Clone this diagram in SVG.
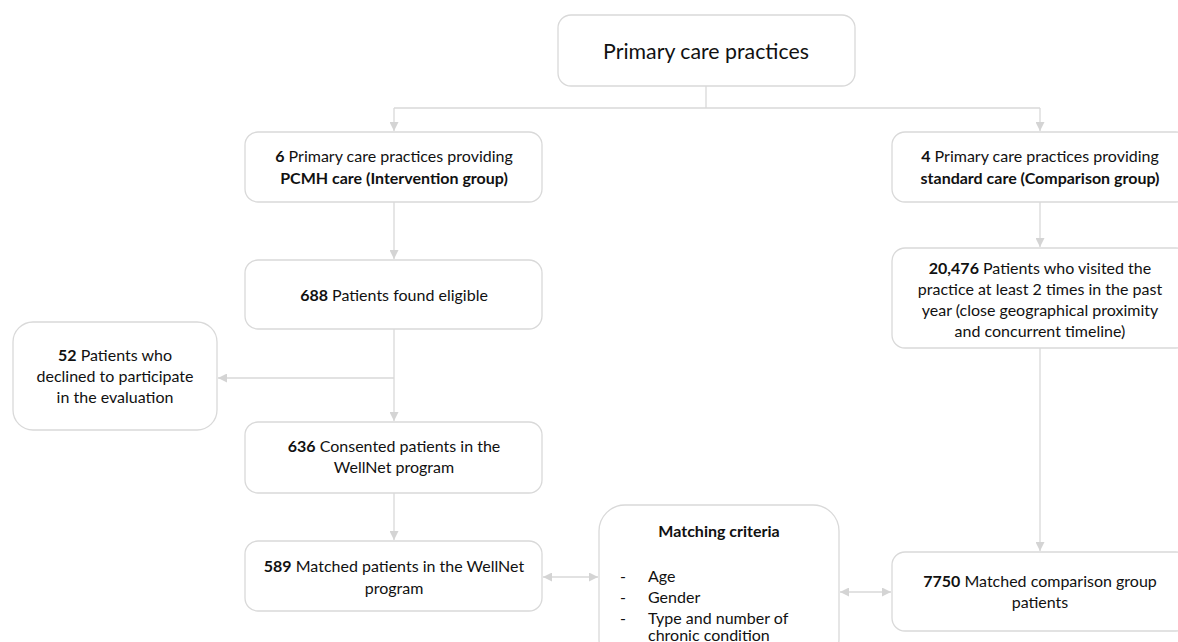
<svg xmlns="http://www.w3.org/2000/svg" width="1178" height="642" viewBox="0 0 1178 642">
<defs>
<marker id="ah" viewBox="0 0 10 10" refX="10" refY="5" markerWidth="9" markerHeight="9" markerUnits="userSpaceOnUse" orient="auto-start-reverse">
<path d="M0,0 L10,5 L0,10 z" fill="#d4d4d4"/>
</marker>
<style>
.box{fill:#fff;stroke:#d9d9d9;stroke-width:1.3}
.t{font-family:Lato,"Open Sans","Liberation Sans",sans-serif;font-size:16px;fill:#111;text-anchor:middle}
.l{text-anchor:start}
.b{font-weight:bold}
.c{fill:none;stroke:#d9d9d9;stroke-width:1.3}
</style>
</defs>
<rect width="1178" height="642" fill="#fff"/>
<g id="connectors">
<path class="c" d="M706,86 V108 M394,108 H1040"/>
<path class="c" d="M394,108 V131" marker-end="url(#ah)"/>
<path class="c" d="M1040,108 V131" marker-end="url(#ah)"/>
<path class="c" d="M394,202 V259" marker-end="url(#ah)"/>
<path class="c" d="M1040,202 V247" marker-end="url(#ah)"/>
<path class="c" d="M394,329 V421" marker-end="url(#ah)"/>
<path class="c" d="M394,378 H218" marker-end="url(#ah)"/>
<path class="c" d="M394,493 V540" marker-end="url(#ah)"/>
<path class="c" d="M1040,348 V551" marker-end="url(#ah)"/>
<path class="c" d="M543,577 H598" marker-start="url(#ah)" marker-end="url(#ah)"/>
<path class="c" d="M840,592 H891" marker-start="url(#ah)" marker-end="url(#ah)"/>
</g>
<g id="n-top">
<rect class="box" x="558" y="15" width="297" height="71" rx="13"/>
<text class="t" x="706" y="59" style="font-size:21.3px">Primary care practices</text>
</g>
<g id="n-pcmh">
<rect class="box" x="245" y="132" width="297" height="70" rx="13"/>
<text class="t" x="394" y="162"><tspan class="b">6</tspan> Primary care practices providing</text>
<text class="t b" x="394" y="184">PCMH care (Intervention group)</text>
</g>
<g id="n-standard">
<rect class="box" x="892" y="132" width="297" height="70" rx="13"/>
<text class="t" x="1040" y="162"><tspan class="b">4</tspan> Primary care practices providing</text>
<text class="t b" x="1040" y="184">standard care (Comparison group)</text>
</g>
<g id="n-eligible">
<rect class="box" x="245" y="260" width="297" height="69" rx="13"/>
<text class="t" x="394" y="301"><tspan class="b">688</tspan> Patients found eligible</text>
</g>
<g id="n-visited">
<rect class="box" x="892" y="248" width="297" height="100" rx="13"/>
<text class="t" x="1040" y="274"><tspan class="b">20,476</tspan> Patients who visited the</text>
<text class="t" x="1040" y="295">practice at least 2 times in the past</text>
<text class="t" x="1040" y="316">year (close geographical proximity</text>
<text class="t" x="1040" y="337">and concurrent timeline)</text>
</g>
<g id="n-declined">
<rect class="box" x="13" y="322" width="204" height="108" rx="20"/>
<text class="t" x="115" y="361"><tspan class="b">52</tspan> Patients who</text>
<text class="t" x="115" y="382">declined to participate</text>
<text class="t" x="115" y="403">in the evaluation</text>
</g>
<g id="n-consented">
<rect class="box" x="245" y="422" width="297" height="71" rx="13"/>
<text class="t" x="394" y="452"><tspan class="b">636</tspan> Consented patients in the</text>
<text class="t" x="394" y="473">WellNet program</text>
</g>
<g id="n-matched">
<rect class="box" x="245" y="541" width="297" height="70" rx="13"/>
<text class="t" x="394" y="572"><tspan class="b">589</tspan> Matched patients in the WellNet</text>
<text class="t" x="394" y="594">program</text>
</g>
<g id="n-criteria">
<rect class="box" x="599" y="505" width="240" height="160" rx="26"/>
<text class="t b" x="719" y="537">Matching criteria</text>
<text class="t l" x="620" y="582">-</text><text class="t l" x="648" y="582">Age</text>
<text class="t l" x="620" y="603">-</text><text class="t l" x="648" y="603">Gender</text>
<text class="t l" x="620" y="624">-</text><text class="t l" x="648" y="624">Type and number of</text>
<text class="t l" x="648" y="641">chronic condition</text>
</g>
<g id="n-comparison">
<rect class="box" x="892" y="552" width="297" height="79" rx="13"/>
<text class="t" x="1040" y="587"><tspan class="b">7750</tspan> Matched comparison group</text>
<text class="t" x="1040" y="608">patients</text>
</g>
</svg>
